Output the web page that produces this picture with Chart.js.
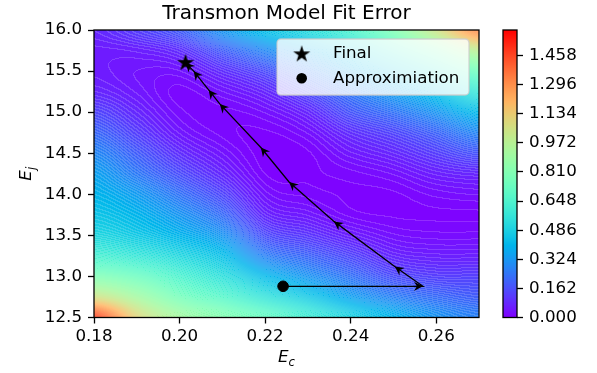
<!DOCTYPE html>
<html>
<head>
<meta charset="utf-8">
<script src="https://cdn.jsdelivr.net/npm/chart.js@4"></script>
<style>
  html, body { margin: 0; padding: 0; background: #fff; }
  #wrap { position: relative; width: 597px; height: 373px; }
  #main { position: absolute; left: 0; top: 0; }
  #cbar { position: absolute; left: 490px; top: 0; }
</style>
</head>
<body>
<div id="wrap">
  <canvas id="main" width="597" height="373"></canvas>
  <canvas id="cbar" width="107" height="373"></canvas>
</div>
<script>
// Axis ticks
const xTicks = [0.18, 0.20, 0.22, 0.24, 0.26];
const yTicks = [12.5, 13.0, 13.5, 14.0, 14.5, 15.0, 15.5, 16.0];
const cbTicks = [0.000, 0.162, 0.324, 0.486, 0.648, 0.810, 0.972, 1.134, 1.296, 1.458];
const cbMax = 1.60;

// Error surface: one column per Ec, values from Ej = 16.0 down to 12.5
const gridEc = [0.18, 0.19, 0.20, 0.21, 0.22, 0.23, 0.24, 0.25, 0.26, 0.27];
const gridEj = [16.0, 15.75, 15.5, 15.25, 15.0, 14.75, 14.5, 14.25, 14.0, 13.75, 13.5, 13.25, 13.0, 12.75, 12.5];
const err018 = [0.080, 0.056, 0.056, 0.080, 0.144, 0.216, 0.288, 0.352, 0.400, 0.448, 0.512, 0.624, 0.800, 1.056, 1.472];
const err019 = [0.128, 0.064, 0.040, 0.048, 0.080, 0.128, 0.192, 0.256, 0.336, 0.400, 0.464, 0.576, 0.736, 0.912, 1.104];
const err020 = [0.192, 0.096, 0.040, 0.016, 0.024, 0.048, 0.096, 0.160, 0.240, 0.320, 0.400, 0.512, 0.640, 0.768, 0.912];
const err021 = [0.320, 0.192, 0.096, 0.040, 0.016, 0.016, 0.040, 0.080, 0.144, 0.224, 0.320, 0.432, 0.544, 0.672, 0.816];
const err022 = [0.432, 0.288, 0.160, 0.080, 0.032, 0.008, 0.003, 0.010, 0.036, 0.080, 0.160, 0.272, 0.416, 0.560, 0.720];
const err023 = [0.528, 0.384, 0.256, 0.160, 0.080, 0.032, 0.008, 0.008, 0.016, 0.048, 0.112, 0.208, 0.320, 0.464, 0.608];
const err024 = [0.640, 0.496, 0.368, 0.256, 0.176, 0.096, 0.048, 0.016, 0.008, 0.016, 0.064, 0.144, 0.240, 0.352, 0.496];
const err025 = [0.800, 0.640, 0.480, 0.352, 0.240, 0.144, 0.080, 0.032, 0.008, 0.008, 0.032, 0.080, 0.160, 0.272, 0.400];
const err026 = [1.040, 0.800, 0.608, 0.448, 0.320, 0.208, 0.128, 0.064, 0.024, 0.008, 0.024, 0.064, 0.128, 0.224, 0.320];
const err027 = [1.312, 0.992, 0.752, 0.576, 0.416, 0.288, 0.176, 0.080, 0.032, 0.008, 0.024, 0.064, 0.128, 0.192, 0.272];
const errCols = [err018, err019, err020, err021, err022, err023, err024, err025, err026, err027];

// Optimisation path
const pathEc = [0.2242, 0.2569, 0.2503, 0.2361, 0.2256, 0.2190, 0.2094, 0.2068, 0.2033, 0.2014];
const pathEj = [12.88, 12.88, 13.12, 13.67, 14.15, 14.57, 15.10, 15.27, 15.50, 15.60];

Chart.defaults.font.family = "'DejaVu Sans', sans-serif";
Chart.defaults.color = "#000";

// matplotlib "rainbow"
function rainbow(t) {
  t = Math.max(0, Math.min(1, t));
  const r = Math.min(1, Math.abs(2 * t - 0.5));
  const g = Math.sin(Math.PI * t);
  const b = Math.cos(Math.PI * t / 2);
  return [r * 255, g * 255, b * 255];
}

function cr(p0, p1, p2, p3, t) {
  return 0.5 * (2 * p1 + (-p0 + p2) * t + (2 * p0 - 5 * p1 + 4 * p2 - p3) * t * t + (-p0 + 3 * p1 - 3 * p2 + p3) * t * t * t);
}

function sampleGrid(ec, ej) {
  const nx = gridEc.length, ny = gridEj.length;
  let fx = (ec - gridEc[0]) / (gridEc[nx - 1] - gridEc[0]) * (nx - 1);
  let fy = (gridEj[0] - ej) / (gridEj[0] - gridEj[ny - 1]) * (ny - 1);
  fx = Math.max(0, Math.min(nx - 1.0001, fx));
  fy = Math.max(0, Math.min(ny - 1.0001, fy));
  const i = Math.floor(fx), j = Math.floor(fy);
  const tx = fx - i, ty = fy - j;
  const at = (ii, jj) => errCols[Math.max(0, Math.min(nx - 1, ii))][Math.max(0, Math.min(ny - 1, jj))];
  const cols = [];
  for (let k = -1; k <= 2; k++) {
    cols.push(cr(at(i + k, j - 1), at(i + k, j), at(i + k, j + 1), at(i + k, j + 2), ty));
  }
  return Math.max(0, cr(cols[0], cols[1], cols[2], cols[3], tx));
}

const heatmapPlugin = {
  id: "heatmap",
  beforeDatasetsDraw(chart) {
    const { ctx, chartArea: a, scales: { x, y } } = chart;
    const left = Math.round(a.left), top = Math.round(a.top);
    const w = Math.round(a.right) - left, h = Math.round(a.bottom) - top;
    const img = ctx.createImageData(w, h);
    const step = cbMax / 160;
    const vals = new Float32Array((w + 1) * (h + 1));
    for (let j = 0; j <= h; j++) {
      const ev = y.getValueForPixel(top + j + 0.5);
      for (let i = 0; i <= w; i++) {
        vals[j * (w + 1) + i] = sampleGrid(x.getValueForPixel(left + i + 0.5), ev);
      }
    }
    for (let j = 0; j < h; j++) {
      for (let i = 0; i < w; i++) {
        const v = vals[j * (w + 1) + i];
        const lv = Math.floor(v / step);
        const [r, g, b] = rainbow((lv + 0.5) * step / cbMax);
        const edge = lv !== Math.floor(vals[j * (w + 1) + i + 1] / step) ||
                     lv !== Math.floor(vals[(j + 1) * (w + 1) + i] / step);
        const m = edge ? 0.16 : 0;
        const o = (j * w + i) * 4;
        img.data[o] = r + (255 - r) * m;
        img.data[o + 1] = g + (255 - g) * m;
        img.data[o + 2] = b + (255 - b) * m;
        img.data[o + 3] = 255;
      }
    }
    ctx.putImageData(img, left, top);
  },
  afterDraw(chart) {
    const { ctx, chartArea: a } = chart;
    ctx.save();
    ctx.strokeStyle = "#000";
    ctx.lineWidth = 1.3;
    ctx.strokeRect(a.left, a.top, a.right - a.left, a.bottom - a.top);
    ctx.restore();
  }
};

function makeStar(r) {
  const c = document.createElement("canvas");
  const s = Math.ceil(r * 2 + 2);
  c.width = c.height = s;
  const g = c.getContext("2d");
  g.fillStyle = "#000";
  g.beginPath();
  for (let k = 0; k < 10; k++) {
    const rad = k % 2 ? r * 0.382 : r;
    const ang = -Math.PI / 2 + k * Math.PI / 5;
    g.lineTo(s / 2 + rad * Math.cos(ang), s / 2 + rad * Math.sin(ang));
  }
  g.closePath();
  g.fill();
  return c;
}
const starImg = makeStar(9);

// Arrow heads at every step of the path
const arrowPlugin = {
  id: "arrows",
  afterDatasetDraw(chart, args) {
    if (args.index !== 0) return;
    const { ctx } = chart;
    const pts = args.meta.data;
    ctx.save();
    ctx.fillStyle = "#000";
    for (let k = 1; k < pts.length; k++) {
      const p = pts[k], q = pts[k - 1];
      const ang = Math.atan2(p.y - q.y, p.x - q.x);
      ctx.save();
      ctx.translate(p.x, p.y);
      ctx.rotate(ang);
      ctx.beginPath();
      ctx.moveTo(0, 0);
      ctx.lineTo(-9, -4.6);
      ctx.lineTo(-6, 0);
      ctx.lineTo(-9, 4.6);
      ctx.closePath();
      ctx.fill();
      ctx.restore();
    }
    ctx.restore();
  }
};

// Legend box, axis labels
const decorPlugin = {
  id: "decor",
  afterDraw(chart) {
    const { ctx, chartArea: a } = chart;
    ctx.save();
    // legend
    const bx = 277, by = 39, bw = 192, bh = 56, rr = 4;
    ctx.beginPath();
    ctx.roundRect(bx, by, bw, bh, rr);
    ctx.fillStyle = "rgba(255,255,255,0.8)";
    ctx.fill();
    ctx.strokeStyle = "rgba(204,204,204,0.8)";
    ctx.lineWidth = 1.3;
    ctx.stroke();
    ctx.drawImage(starImg, 301.7 - starImg.width / 2, 53.5 - starImg.height / 2 + 0.8);
    ctx.fillStyle = "#000";
    ctx.beginPath();
    ctx.arc(301.7, 78.3, 5.3, 0, Math.PI * 2);
    ctx.fill();
    ctx.font = "16.7px 'DejaVu Sans'";
    ctx.textBaseline = "middle";
    ctx.textAlign = "left";
    ctx.fillText(chart.data.datasets[2].label, 333, 53.5);
    ctx.fillText(chart.data.datasets[1].label, 333, 78.5);

    // x label E_c
    const big = "italic 16.7px 'DejaVu Sans'", small = "italic 11.7px 'DejaVu Sans'";
    ctx.textBaseline = "alphabetic";
    ctx.font = big;
    const wE = ctx.measureText("E").width;
    ctx.font = small;
    const wc = ctx.measureText("c").width;
    const cx = (a.left + a.right) / 2 - (wE + wc) / 2;
    ctx.font = big;
    ctx.fillText("E", cx, 362);
    ctx.font = small;
    ctx.fillText("c", cx + wE, 365.5);

    // y label E_j
    ctx.translate(31, (a.top + a.bottom) / 2);
    ctx.rotate(-Math.PI / 2);
    ctx.font = small;
    const wj = ctx.measureText("j").width;
    ctx.font = big;
    ctx.fillText("E", -(wE + wj) / 2, 0);
    ctx.font = small;
    ctx.fillText("j", -(wE + wj) / 2 + wE, 3.5);
    ctx.restore();
  }
};

new Chart(document.getElementById("main"), {
  type: "scatter",
  data: {
    datasets: [
      {
        label: "path",
        data: pathEc.map((x, i) => ({ x, y: pathEj[i] })),
        showLine: true,
        borderColor: "#000",
        borderWidth: 1.3,
        pointRadius: 0,
        fill: false
      },
      {
        label: "Approximiation",
        data: [{ x: pathEc[0], y: pathEj[0] }],
        pointStyle: "circle",
        pointRadius: 5.3,
        backgroundColor: "#000",
        borderColor: "#000"
      },
      {
        label: "Final",
        data: [{ x: pathEc[pathEc.length - 1], y: pathEj[pathEj.length - 1] }],
        pointStyle: starImg,
        backgroundColor: "#000"
      }
    ]
  },
  options: {
    responsive: false,
    devicePixelRatio: 1,
    animation: false,
    layout: { padding: { left: 0, right: 118, top: 0, bottom: 0 } },
    plugins: {
      legend: { display: false },
      tooltip: { enabled: false },
      title: {
        display: true,
        text: "Transmon Model Fit Error",
        fullSize: false,
        font: { size: 20, weight: "normal" },
        padding: { top: 1.5, bottom: 4.5 }
      }
    },
    scales: {
      x: {
        type: "linear",
        min: 0.18,
        max: 0.27,
        afterBuildTicks: s => { s.ticks = xTicks.map(v => ({ value: v })); },
        afterFit: s => { s.height = 55.5; },
        ticks: { font: { size: 16.7 }, padding: 3, maxRotation: 0, callback: v => v.toFixed(2) },
        grid: { drawOnChartArea: false, drawTicks: true, tickLength: 6, tickWidth: 1.3, color: "#000" },
        border: { display: false }
      },
      y: {
        type: "linear",
        min: 12.5,
        max: 16.0,
        afterBuildTicks: s => { s.ticks = yTicks.map(v => ({ value: v })); },
        afterFit: s => { s.width = 94; },
        ticks: { font: { size: 16.7 }, padding: 6, callback: v => v.toFixed(1) },
        grid: { drawOnChartArea: false, drawTicks: true, tickLength: 6, tickWidth: 1.3, color: "#000" },
        border: { display: false }
      }
    }
  },
  plugins: [heatmapPlugin, arrowPlugin, decorPlugin]
});

// Colorbar
const colorbarPlugin = {
  id: "colorbar",
  beforeDatasetsDraw(chart) {
    const { ctx, chartArea: a, scales: { y } } = chart;
    ctx.save();
    for (let py = Math.floor(a.top); py < Math.ceil(a.bottom); py++) {
      const v = y.getValueForPixel(py + 0.5);
      const [r, g, b] = rainbow(v / cbMax);
      ctx.fillStyle = `rgb(${r | 0},${g | 0},${b | 0})`;
      ctx.fillRect(a.left, py, a.right - a.left, 1);
    }
    ctx.strokeStyle = "#000";
    ctx.lineWidth = 1.3;
    ctx.strokeRect(a.left, a.top, a.right - a.left, a.bottom - a.top);
    ctx.restore();
  }
};

new Chart(document.getElementById("cbar"), {
  type: "scatter",
  data: { datasets: [{ data: [] }] },
  options: {
    responsive: false,
    devicePixelRatio: 1,
    animation: false,
    layout: { padding: { left: 13, right: 0, top: 30, bottom: 55.5 } },
    plugins: { legend: { display: false }, tooltip: { enabled: false } },
    scales: {
      x: { display: false, min: 0, max: 1 },
      y: {
        type: "linear",
        position: "right",
        min: 0,
        max: cbMax,
        afterBuildTicks: s => { s.ticks = cbTicks.map(v => ({ value: v })); },
        afterFit: s => { s.width = 80; },
        ticks: { font: { size: 16.7 }, padding: 6, callback: v => v.toFixed(3) },
        grid: { drawOnChartArea: false, drawTicks: true, tickLength: 6, tickWidth: 1.3, color: "#000" },
        border: { display: false }
      }
    }
  },
  plugins: [colorbarPlugin]
});
</script>
</body>
</html>
